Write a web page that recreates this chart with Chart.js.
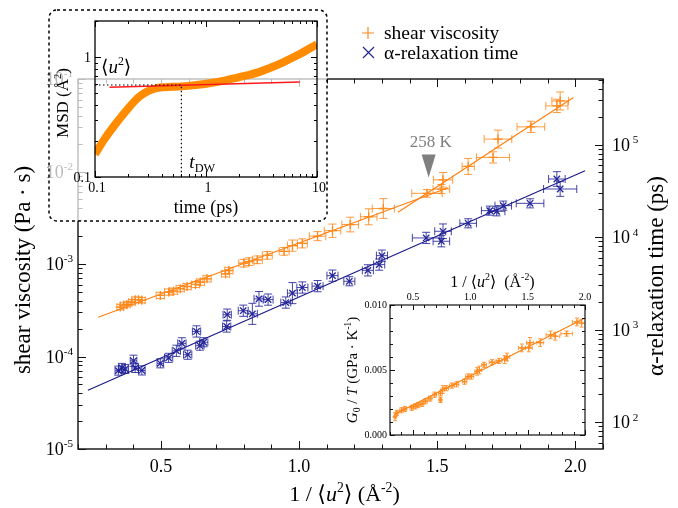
<!DOCTYPE html>
<html><head><meta charset="utf-8">
<script src="https://cdn.jsdelivr.net/npm/chart.js@4.4.1/dist/chart.umd.min.js"></script>
<style>
html,body{margin:0;padding:0;background:#fff;}
#wrap{position:relative;width:678px;height:508px;overflow:hidden;background:#fff;}
canvas{position:absolute;}
</style></head><body>
<div id="wrap">
<canvas id="main" width="678" height="508" style="left:0;top:0"></canvas>
<canvas id="ins1" width="288" height="222" style="left:44px;top:4px"></canvas>
<canvas id="ins2" width="262" height="180" style="left:330px;top:265px"></canvas>
</div>
<script>
// ---------------- data ----------------
// main: shear viscosity (Pa s) vs 1/<u^2>
const viscX = [0.353,0.365,0.377,0.395,0.407,0.419,0.431,0.498,0.528,0.546,0.570,0.595,0.625,0.643,0.667,0.734,0.746,0.800,0.819,0.849,0.885,0.946,0.976,1.012,1.067,1.121,1.185,1.252,1.305,1.463,1.515,1.521,1.612,1.702,1.720,1.839,1.933,1.945];
const viscY = [3.42e-4,3.57e-4,3.66e-4,3.87e-4,4.11e-4,4.11e-4,4.05e-4,4.57e-4,4.97e-4,5.09e-4,5.41e-4,5.71e-4,6.01e-4,6.37e-4,6.92e-4,7.83e-4,8.51e-4,1.02e-3,1.06e-3,1.11e-3,1.24e-3,1.37e-3,1.58e-3,1.67e-3,2.0e-3,2.29e-3,2.67e-3,3.24e-3,3.98e-3,5.81e-3,6.46e-3,8.13e-3,1.135e-2,1.42e-2,2.24e-2,3.04e-2,5.12e-2,5.79e-2];
const viscXErr = [0.012,0.012,0.012,0.012,0.012,0.012,0.012,0.015,0.015,0.015,0.015,0.015,0.015,0.015,0.015,0.015,0.015,0.018,0.018,0.018,0.018,0.018,0.018,0.018,0.03,0.03,0.03,0.03,0.04,0.055,0.03,0.035,0.022,0.06,0.05,0.05,0.04,0.03];
const viscYErr = [1.07,1.07,1.07,1.07,1.07,1.07,1.07,1.08,1.08,1.08,1.08,1.08,1.08,1.08,1.08,1.08,1.08,1.1,1.1,1.1,1.1,1.1,1.15,1.12,1.12,1.18,1.2,1.22,1.28,1.1,1.12,1.2,1.22,1.15,1.25,1.15,1.18,1.25];
// main: alpha-relaxation time (ps) vs 1/<u^2>
const tauX = [0.346,0.359,0.371,0.401,0.407,0.431,0.498,0.528,0.556,0.576,0.597,0.629,0.641,0.655,0.738,0.740,0.798,0.831,0.855,0.888,0.952,0.976,1.012,1.067,1.121,1.182,1.249,1.290,1.300,1.460,1.515,1.521,1.612,1.690,1.715,1.739,1.836,1.933,1.945];
const tauY = [360,385,375,460,385,362,432,495,590,710,535,955,670,730,1080,1450,1600,1480,2150,2110,1960,2480,2850,2950,3830,3330,4370,5040,6300,9795,9016,11560,14090,19320,19000,21880,23170,42460,33110];
const tauXErr = [0.012,0.012,0.012,0.012,0.012,0.012,0.012,0.015,0.015,0.015,0.015,0.015,0.015,0.015,0.015,0.015,0.018,0.018,0.018,0.018,0.018,0.018,0.02,0.02,0.02,0.02,0.02,0.02,0.02,0.05,0.03,0.03,0.03,0.03,0.03,0.03,0.05,0.03,0.06];
const tauYErr = [1.12,1.12,1.12,1.15,1.12,1.12,1.12,1.12,1.15,1.15,1.12,1.15,1.12,1.12,1.15,1.15,1.15,1.3,1.2,1.15,1.15,1.3,1.15,1.15,1.15,1.12,1.15,1.15,1.15,1.15,1.15,1.2,1.12,1.12,1.12,1.12,1.12,1.2,1.2];
// fit lines
const viscFitLowX = [0.273,1.54],  viscFitLowY = [2.66e-4,6.68e-3];
const viscFitHighX = [1.358,1.993], viscFitHighY = [3.63e-3,6.30e-2];
const tauFitX = [0.236,2.035], tauFitY = [221,52120];
const breakX = 1.469, breakY = 8.6e-3, breakLabel = '258 K';
// axis ticks
const xTickVals = [0.5,1.0,1.5,2.0], xTickLabels = ['0.5','1.0','1.5','2.0'];
const yLeftExp = [-5,-4,-3,-2,-1];
const yRightExp = [2,3,4,5];
const legendLabels = ['shear viscosity','α-relaxation time'];
// inset 1: mean squared displacement
const msdTime = [0.1,0.12,0.15,0.2,0.25,0.3,0.35,0.4,0.5,0.6,0.8,1,1.5,2,3,4,5,7,10];
const msdVal  = [0.155,0.203,0.27,0.376,0.467,0.52,0.547,0.56,0.565,0.57,0.584,0.6,0.64,0.68,0.75,0.83,0.91,1.06,1.28];
const plateauFitX = [0.135,7], plateauFitY = [0.56,0.62];
const u2Level = 0.585, tDW = 0.6;
const ins1XTicks = [0.1,1,10], ins1XLabels = ['0.1','1','10'];
const ins1YTicks = [0.1,1], ins1YLabels = ['0.1','1'];
// inset 2: G0/T vs 1/<u^2>
const g0tX = [0.344,0.36,0.40,0.43,0.49,0.52,0.545,0.58,0.61,0.65,0.69,0.74,0.74,0.76,0.79,0.84,0.88,0.95,0.98,1.01,1.06,1.08,1.12,1.19,1.25,1.30,1.32,1.45,1.51,1.52,1.61,1.70,1.74,1.84,1.93,1.97];
const g0tY = [0.0014,0.0017,0.0019,0.0020,0.0021,0.0022,0.0023,0.0024,0.0026,0.0028,0.0031,0.0032,0.0027,0.0035,0.0036,0.0038,0.0039,0.0041,0.0045,0.0045,0.0049,0.0050,0.0054,0.0056,0.0057,0.0058,0.0060,0.0067,0.0067,0.0071,0.0071,0.0077,0.0076,0.0078,0.0087,0.0086];
const g0tXErr = [0.01,0.01,0.015,0.015,0.015,0.015,0.015,0.015,0.015,0.015,0.015,0.015,0.01,0.015,0.02,0.02,0.02,0.02,0.02,0.02,0.02,0.02,0.02,0.025,0.025,0.025,0.025,0.03,0.03,0.03,0.03,0.04,0.04,0.05,0.04,0.04];
const g0tYErr = [0.0003,0.0002,0.0002,0.0002,0.0002,0.0002,0.0002,0.0002,0.0002,0.0002,0.0002,0.0002,0.0002,0.0003,0.0002,0.0002,0.0002,0.0002,0.0002,0.0002,0.0003,0.0003,0.0002,0.0002,0.0002,0.0003,0.0003,0.0003,0.0003,0.0004,0.0003,0.0003,0.0003,0.0002,0.0003,0.0003];
const g0tFitX = [0.34,1.98], g0tFitY = [0.0016,0.0089];
const ins2XTicks = [0.5,1.0,1.5,2.0], ins2XLabels = ['0.5','1.0','1.5','2.0'];
const ins2YTicks = [0,0.005,0.010], ins2YLabels = ['0.000','0.005','0.010'];

// ---------------- helpers ----------------
const FAM = '"Liberation Serif","DejaVu Serif",serif';
const ORANGE = '#ff8a1e', ORANGE_LINE = '#ff7f0e', BLUE = '#24249a', BLUE_LINE = '#1a1a8a';
const pts = (xs, ys) => xs.map((x,i)=>({x, y: ys[i]}));
const SUP = {sc:0.62, dy:-0.42}, SUB = {sc:0.65, dy:0.22};

function drawRich(ctx, segs, x, y, o){
  const size=o.size, align=o.align||'left';
  ctx.save(); ctx.translate(x,y); if(o.rot) ctx.rotate(o.rot);
  ctx.fillStyle=o.color||'#000'; ctx.textBaseline='alphabetic'; ctx.textAlign='left';
  let w=0;
  const parts = segs.map(s=>{
    const sz=size*(s.sc||1);
    const f=(s.it?'italic ':'')+sz+'px '+FAM;
    ctx.font=f; const wd=ctx.measureText(s.t).width;
    const p={t:s.t,f,wd,dy:(s.dy||0)*size,dx:(s.dx||0)*size}; w+=wd+p.dx; return p;
  });
  let cx = align==='center'?-w/2:(align==='right'?-w:0);
  for(const p of parts){ cx+=p.dx; ctx.font=p.f; ctx.fillText(p.t,cx,p.dy); cx+=p.wd; }
  ctx.restore();
}
const S = (t,o)=>Object.assign({t},o||{});

function logTicks(ctx, scale, edge, dir, vertical, Lmaj, Lmin){
  const lo=Math.floor(Math.log10(scale.min)), hi=Math.ceil(Math.log10(scale.max));
  for(let e=lo;e<=hi;e++) for(let m=1;m<=9;m++){
    const v=m*Math.pow(10,e); if(v<scale.min*0.999||v>scale.max*1.001) continue;
    const p=Math.round(scale.getPixelForValue(v))+0.5, L=m===1?Lmaj:Lmin;
    if(vertical){ ctx.moveTo(edge,p); ctx.lineTo(edge+dir*L,p); }
    else { ctx.moveTo(p,edge); ctx.lineTo(p,edge+dir*L); }
  }
}
function linTicks(ctx, scale, edge, dir, vertical, step, majEvery, Lmaj, Lmin){
  const n0=Math.ceil(scale.min/step-1e-6), n1=Math.floor(scale.max/step+1e-6);
  for(let n=n0;n<=n1;n++){
    const p=Math.round(scale.getPixelForValue(n*step))+0.5, L=(n%majEvery===0)?Lmaj:Lmin;
    if(vertical){ ctx.moveTo(edge,p); ctx.lineTo(edge+dir*L,p); }
    else { ctx.moveTo(p,edge); ctx.lineTo(p,edge+dir*L); }
  }
}
function errorBars(chart, dsIndex, xErr, yErr, mode, color, cap){
  const ds=chart.data.datasets[dsIndex], meta=chart.getDatasetMeta(dsIndex);
  const xs=chart.scales[meta.xAxisID], ys=chart.scales[meta.yAxisID], ctx=chart.ctx, a=chart.chartArea;
  ctx.save(); ctx.beginPath(); ctx.rect(a.left,a.top,a.right-a.left,a.bottom-a.top); ctx.clip();
  ctx.strokeStyle=color; ctx.lineWidth=1; ctx.beginPath();
  ds.data.forEach((p,j)=>{
    const px=xs.getPixelForValue(p.x), py=ys.getPixelForValue(p.y);
    const xl=xs.getPixelForValue(p.x-xErr[j]), xr=xs.getPixelForValue(p.x+xErr[j]);
    const yl=ys.getPixelForValue(mode==='mul'?p.y/yErr[j]:p.y-yErr[j]);
    const yh=ys.getPixelForValue(mode==='mul'?p.y*yErr[j]:p.y+yErr[j]);
    ctx.moveTo(xl,py); ctx.lineTo(xr,py);
    ctx.moveTo(xl,py-cap); ctx.lineTo(xl,py+cap); ctx.moveTo(xr,py-cap); ctx.lineTo(xr,py+cap);
    ctx.moveTo(px,yl); ctx.lineTo(px,yh);
    ctx.moveTo(px-cap,yl); ctx.lineTo(px+cap,yl); ctx.moveTo(px-cap,yh); ctx.lineTo(px+cap,yh);
  });
  ctx.stroke(); ctx.restore();
}

// ---------------- main chart ----------------
const mainDeco = {
  id:'mainDeco',
  beforeDatasetsDraw(chart){
    errorBars(chart,0,viscXErr,viscYErr,'mul','rgba(255,138,30,0.85)',4);
    errorBars(chart,1,tauXErr,tauYErr,'mul','rgba(36,36,154,0.85)',4);
  },
  afterDraw(chart){
    const ctx=chart.ctx, a=chart.chartArea, sx=chart.scales.x, sy=chart.scales.y, sy2=chart.scales.y2;
    ctx.save();
    ctx.strokeStyle='#111'; ctx.lineWidth=1.4;
    ctx.strokeRect(a.left,a.top,a.right-a.left,a.bottom-a.top);
    ctx.lineWidth=1; ctx.beginPath();
    linTicks(ctx,sx,a.bottom,-1,false,0.1,5,8,4.5);
    linTicks(ctx,sx,a.top,1,false,0.1,5,8,4.5);
    logTicks(ctx,sy,a.left,1,true,8,4.5);
    logTicks(ctx,sy2,a.right,-1,true,8,4.5);
    ctx.stroke();
    // tick labels
    ctx.fillStyle='#000'; ctx.font='18px '+FAM; ctx.textAlign='center'; ctx.textBaseline='alphabetic';
    xTickVals.forEach((v,i)=>ctx.fillText(xTickLabels[i], sx.getPixelForValue(v), a.bottom+23));
    yLeftExp.forEach(e=>drawRich(ctx,[S('10'),S(String(e),SUP)], a.left-5, sy.getPixelForValue(Math.pow(10,e))+6, {size:18,align:'right'}));
    yRightExp.forEach(e=>drawRich(ctx,[S('10'),S(' '+e,SUP)], a.right+9, sy2.getPixelForValue(Math.pow(10,e))+6, {size:18}));
    // axis titles
    drawRich(ctx,[S('1 / ⟨'),S('u',{it:true}),S('2',SUP),S('⟩ (Å'),S('-2',SUP),S(')')], (a.left+a.right)/2+4, 501, {size:22,align:'center'});
    drawRich(ctx,[S('shear viscosity (Pa · s)')], 30, (a.top+a.bottom)/2+6, {size:23,align:'center',rot:-Math.PI/2});
    drawRich(ctx,[S('α-relaxation time (ps)')], 663, (a.top+a.bottom)/2+12, {size:23,align:'center',rot:-Math.PI/2});
    // 258 K marker
    const bx=sx.getPixelForValue(breakX), by=sy.getPixelForValue(breakY);
    ctx.fillStyle='#7f7f7f'; ctx.beginPath(); ctx.moveTo(bx-7,by-23); ctx.lineTo(bx+7,by-23); ctx.lineTo(bx,by); ctx.closePath(); ctx.fill();
    ctx.font='17px '+FAM; ctx.textAlign='center'; ctx.fillText(breakLabel,bx+2,by-31);
    // legend
    ctx.lineWidth=1.2;
    ctx.strokeStyle=ORANGE; ctx.beginPath(); ctx.moveTo(362,33); ctx.lineTo(374,33); ctx.moveTo(368,27); ctx.lineTo(368,39); ctx.stroke();
    ctx.strokeStyle=BLUE; ctx.beginPath(); ctx.moveTo(363,47); ctx.lineTo(374,58); ctx.moveTo(374,47); ctx.lineTo(363,58); ctx.stroke();
    ctx.fillStyle='#000'; ctx.font='19.5px '+FAM; ctx.textAlign='left';
    ctx.fillText(legendLabels[0],384,39); ctx.fillText(legendLabels[1],384,59);
    ctx.restore();
  }
};
new Chart(document.getElementById('main'),{
  type:'scatter',
  data:{datasets:[
    {label:'shear viscosity',data:pts(viscX,viscY),yAxisID:'y',pointStyle:'cross',pointRadius:4.5,pointBorderWidth:1.3,borderColor:ORANGE,backgroundColor:ORANGE,order:1},
    {label:'α-relaxation time',data:pts(tauX,tauY),yAxisID:'y2',pointStyle:'crossRot',pointRadius:4.5,pointBorderWidth:1.3,borderColor:BLUE,backgroundColor:BLUE,order:2},
    {type:'line',data:pts(viscFitLowX,viscFitLowY),yAxisID:'y',borderColor:ORANGE_LINE,borderWidth:1.2,pointRadius:0,order:3},
    {type:'line',data:pts(viscFitHighX,viscFitHighY),yAxisID:'y',borderColor:ORANGE_LINE,borderWidth:1.2,pointRadius:0,order:4},
    {type:'line',data:pts(tauFitX,tauFitY),yAxisID:'y2',borderColor:BLUE_LINE,borderWidth:1.2,pointRadius:0,order:5}
  ]},
  options:{
    responsive:false, animation:false, devicePixelRatio:1,
    layout:{padding:{left:78,right:75,top:79,bottom:59}},
    plugins:{legend:{display:false},tooltip:{enabled:false}},
    scales:{
      x:{type:'linear',min:0.2,max:2.1,display:false},
      y:{type:'logarithmic',min:1e-5,max:1e-1,display:false},
      y2:{type:'logarithmic',min:51.2,max:511700,display:false,position:'right'}
    }
  },
  plugins:[mainDeco]
});

// ---------------- inset 1 ----------------
const ins1Deco = {
  id:'ins1Deco',
  beforeDraw(chart){
    const ctx=chart.ctx; ctx.save();
    ctx.fillStyle='rgba(255,255,255,0.72)';
    ctx.beginPath(); ctx.roundRect(5,6,278,211,8); ctx.fill();
    ctx.restore();
  },
  afterDraw(chart){
    const ctx=chart.ctx, a=chart.chartArea, sx=chart.scales.x, sy=chart.scales.y;
    ctx.save();
    ctx.strokeStyle='#000'; ctx.lineWidth=1.5; ctx.setLineDash([3,3]);
    ctx.beginPath(); ctx.roundRect(5,6,278,211,8); ctx.stroke(); ctx.setLineDash([]);
    ctx.lineWidth=1.3; ctx.strokeRect(a.left,a.top,a.right-a.left,a.bottom-a.top);
    ctx.lineWidth=1; ctx.beginPath();
    logTicks(ctx,sx,a.bottom,-1,false,6,3); logTicks(ctx,sx,a.top,1,false,6,3);
    logTicks(ctx,sy,a.left,1,true,6,3); logTicks(ctx,sy,a.right,-1,true,6,3);
    ctx.stroke();
    ctx.fillStyle='#000'; ctx.font='14px '+FAM; ctx.textBaseline='alphabetic';
    ctx.textAlign='center';
    ins1XTicks.forEach((v,i)=>ctx.fillText(ins1XLabels[i], sx.getPixelForValue(v)+2, a.bottom+15));
    ctx.textAlign='right';
    ins1YTicks.forEach((v,i)=>ctx.fillText(ins1YLabels[i], a.left-4, sy.getPixelForValue(v)+5));
    drawRich(ctx,[S('time (ps)')],(a.left+a.right)/2,a.bottom+36,{size:18,align:'center'});
    drawRich(ctx,[S('MSD (Å'),S('2',SUP),S(')')],24,(a.top+a.bottom)/2+4,{size:17,align:'center',rot:-Math.PI/2});
    drawRich(ctx,[S('⟨'),S('u',{it:true}),S('2',SUP),S('⟩')],57,sy.getPixelForValue(u2Level)-12,{size:19});
    drawRich(ctx,[S('t',{it:true}),S('DW',SUB)],sx.getPixelForValue(tDW)+8,a.bottom-9,{size:19});
    ctx.restore();
  }
};
new Chart(document.getElementById('ins1'),{
  type:'line',
  data:{datasets:[
    {data:[{x:ins1XTicks[0],y:u2Level},{x:tDW,y:u2Level},{x:tDW,y:ins1YTicks[0]}],borderColor:'#000',borderWidth:1.2,borderDash:[1.5,2.5],pointRadius:0,order:1},
    {data:pts(plateauFitX,plateauFitY),borderColor:'#ff1a1a',borderWidth:1.6,pointRadius:0,order:2},
    {data:pts(msdTime,msdVal),borderColor:'#ff8c00',borderWidth:8,pointRadius:0,cubicInterpolationMode:'monotone',order:3}
  ]},
  options:{
    responsive:false, animation:false, devicePixelRatio:1,
    layout:{padding:{left:51,right:15,top:17,bottom:49}},
    plugins:{legend:{display:false},tooltip:{enabled:false}},
    scales:{
      x:{type:'logarithmic',min:0.1,max:10,display:false},
      y:{type:'logarithmic',min:0.1,max:2,display:false}
    }
  },
  plugins:[ins1Deco]
});

// ---------------- inset 2 ----------------
const ins2Deco = {
  id:'ins2Deco',
  beforeDatasetsDraw(chart){ errorBars(chart,0,g0tXErr,g0tYErr,'add','rgba(255,138,30,0.85)',2); },
  afterDraw(chart){
    const ctx=chart.ctx, a=chart.chartArea, sx=chart.scales.x, sy=chart.scales.y;
    ctx.save();
    ctx.strokeStyle='#111'; ctx.lineWidth=1.2; ctx.strokeRect(a.left,a.top,a.right-a.left,a.bottom-a.top);
    ctx.lineWidth=1; ctx.beginPath();
    linTicks(ctx,sx,a.bottom,-1,false,0.1,5,5,3); linTicks(ctx,sx,a.top,1,false,0.1,5,5,3);
    linTicks(ctx,sy,a.left,1,true,0.001,5,5,3); linTicks(ctx,sy,a.right,-1,true,0.001,5,5,3);
    ctx.stroke();
    ctx.fillStyle='#000'; ctx.font='10px '+FAM; ctx.textBaseline='alphabetic';
    ctx.textAlign='center';
    ins2XTicks.forEach((v,i)=>ctx.fillText(ins2XLabels[i], sx.getPixelForValue(v), a.top-5));
    ctx.textAlign='right';
    ins2YTicks.forEach((v,i)=>ctx.fillText(ins2YLabels[i], a.left-3, sy.getPixelForValue(v)+3));
    drawRich(ctx,[S('1 / ⟨'),S('u',{it:true}),S('2',SUP),S('⟩  (Å'),S('-2',SUP),S(')')],(a.left+a.right)/2+5,a.top-18,{size:16,align:'center'});
    drawRich(ctx,[S('G',{it:true}),S('0',SUB),S(' / '),S('T',{it:true}),S(' (GPa · K'),S('-1',SUP),S(')')],27,(a.top+a.bottom)/2,{size:15,align:'center',rot:-Math.PI/2});
    ctx.restore();
  }
};
new Chart(document.getElementById('ins2'),{
  type:'scatter',
  data:{datasets:[
    {data:pts(g0tX,g0tY),pointStyle:'cross',pointRadius:2.5,pointBorderWidth:1.2,borderColor:ORANGE,backgroundColor:ORANGE,order:1},
    {type:'line',data:pts(g0tFitX,g0tFitY),borderColor:ORANGE_LINE,borderWidth:1.2,pointRadius:0,order:2}
  ]},
  options:{
    responsive:false, animation:false, devicePixelRatio:1,
    layout:{padding:{left:60,right:7,top:40,bottom:10}},
    plugins:{legend:{display:false},tooltip:{enabled:false}},
    scales:{
      x:{type:'linear',min:0.3,max:2.0,display:false},
      y:{type:'linear',min:0,max:0.010,display:false}
    }
  },
  plugins:[ins2Deco]
});
</script>
</body></html>
